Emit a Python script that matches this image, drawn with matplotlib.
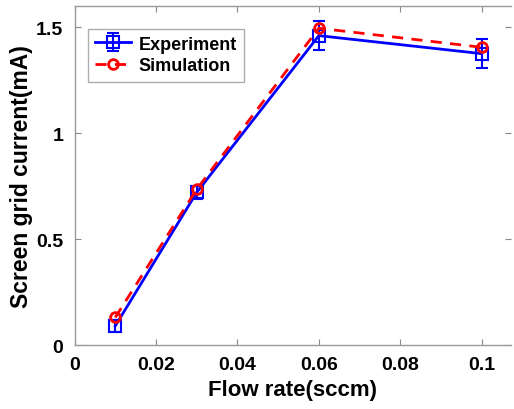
import matplotlib
matplotlib.use("Agg")
import matplotlib.pyplot as plt

flow = [0.01, 0.03, 0.06, 0.1]
experiment = [0.09, 0.72, 1.46, 1.375]
exp_err = [0.03, 0.03, 0.07, 0.07]
simulation = [0.13, 0.735, 1.495, 1.405]

xticks = [0, 0.02, 0.04, 0.06, 0.08, 0.1]
xticklabels = ["0", "0.02", "0.04", "0.06", "0.08", "0.1"]
yticks = [0, 0.5, 1, 1.5]
yticklabels = ["0", "0.5", "1", "1.5"]

plt.rcParams['font.family'] = ['Liberation Sans', 'DejaVu Sans']
plt.rcParams['font.weight'] = 'bold'

fig = plt.figure(figsize=(5.14, 4.10), dpi=100)
ax = fig.add_axes([0.145, 0.156, 0.85, 0.827])

h_exp = ax.errorbar(flow, experiment, yerr=exp_err, color='#0000ff', lw=2, marker='s',
                    ms=9, mfc='none', mew=1.5, capsize=4, elinewidth=1.5, capthick=1.5,
                    label='Experiment', zorder=3)
h_sim, = ax.plot(flow, simulation, color='#ff0000', lw=2, ls=(0, (4, 3)), marker='o',
                 ms=7, mfc='none', mew=2, label='Simulation', zorder=4)

ax.set_xlim(0, 0.1073)
ax.set_ylim(0, 1.6)
ax.set_xticks(xticks)
ax.set_xticklabels(xticklabels)
ax.set_yticks(yticks)
ax.set_yticklabels(yticklabels)
ax.tick_params(direction='in', length=4, labelsize=14, color='#888888', top=True, right=True, pad=8)
for s in ax.spines.values():
    s.set_color('#999999')
    s.set_linewidth(1)
ax.spines['right'].set_visible(False)

ax.set_xlabel('Flow rate(sccm)', fontsize=16, fontweight='bold', labelpad=4)
ax.set_ylabel('Screen grid current(mA)', fontsize=16.5, fontweight='bold', labelpad=2)

leg = ax.legend([h_exp, h_sim], ['Experiment', 'Simulation'],
                loc='upper left', bbox_to_anchor=(0.01, 0.96), fontsize=13,
                frameon=True, fancybox=False, edgecolor='#999999',
                handlelength=2.0, handletextpad=0.4, borderpad=0.4, labelspacing=0.25)
leg.get_frame().set_linewidth(1)

fig.savefig('out.png', dpi=100)
